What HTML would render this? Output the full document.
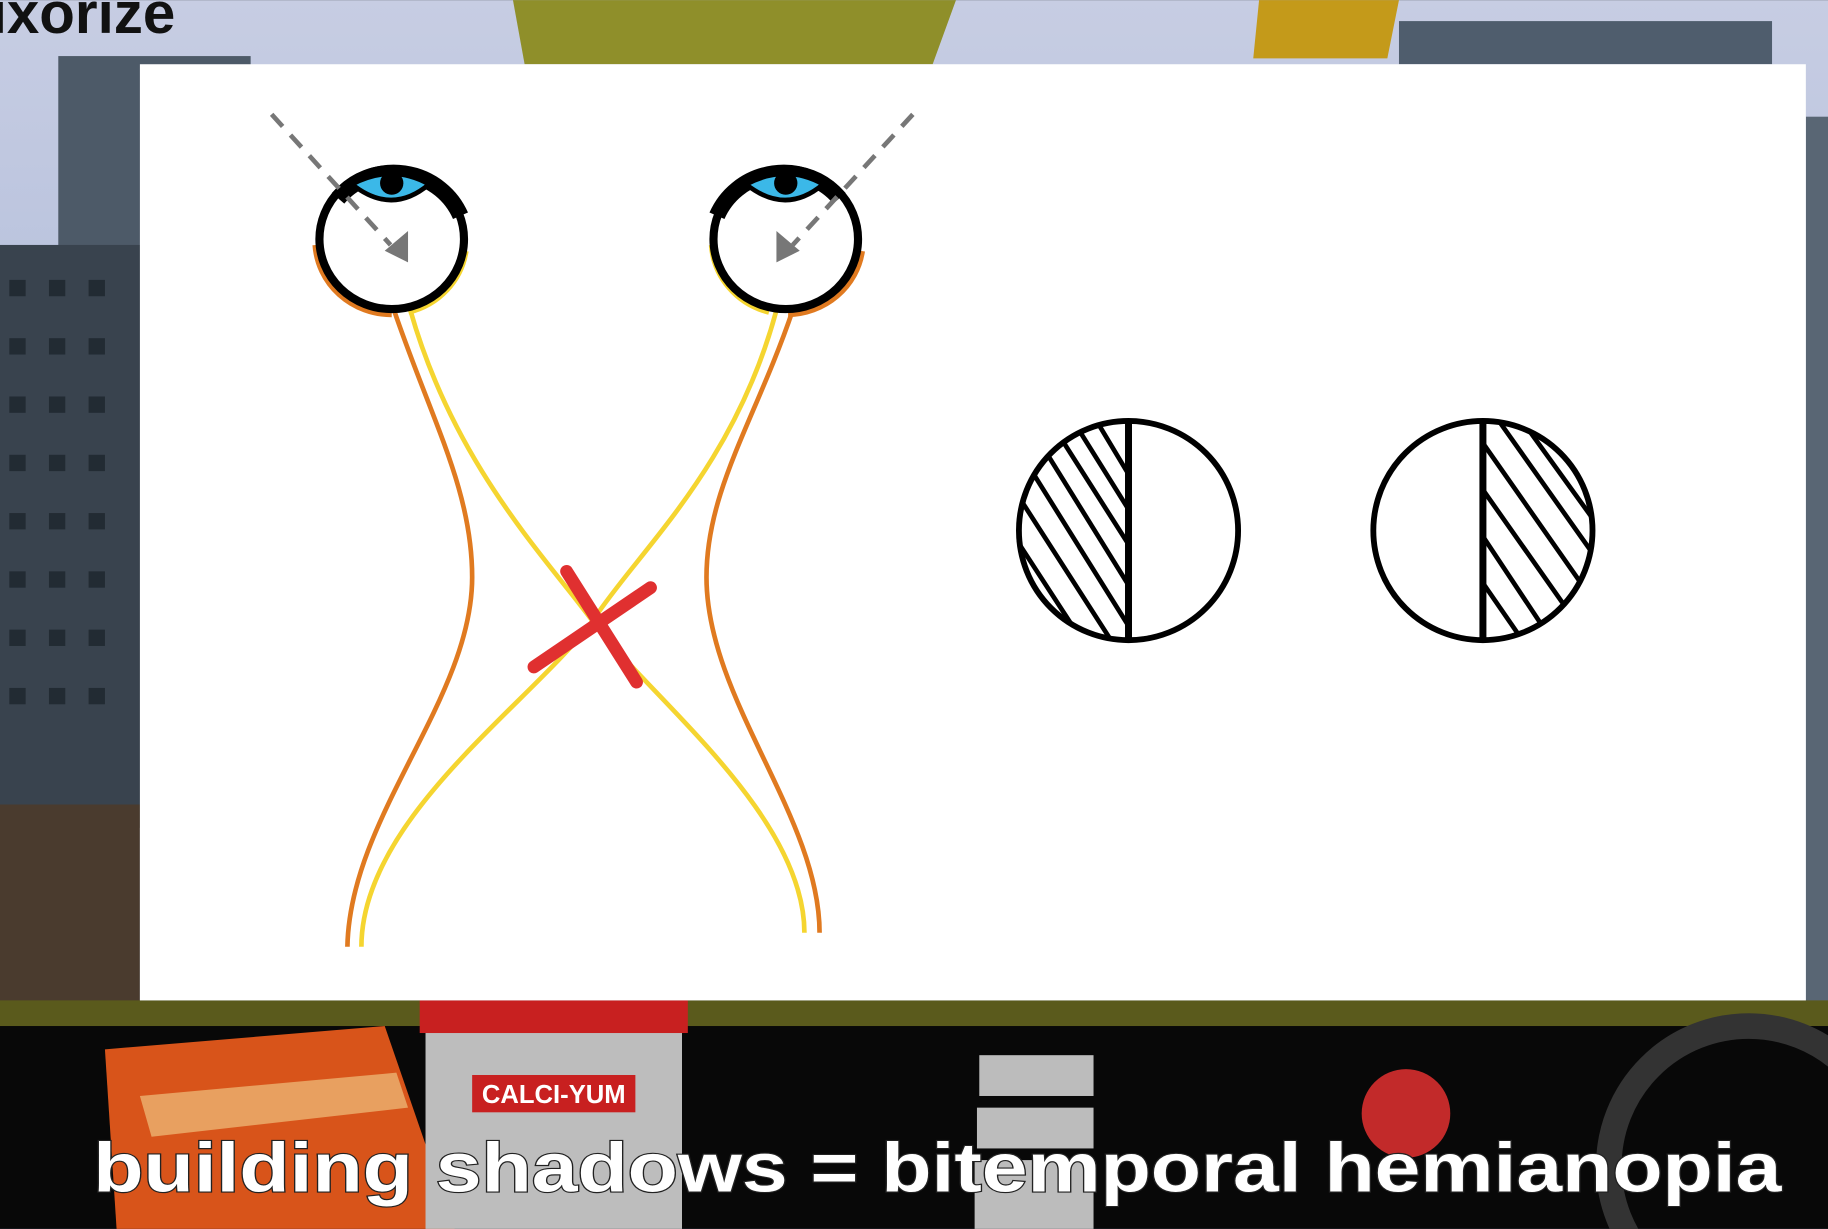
<!DOCTYPE html>
<html><head><meta charset="utf-8"><style>
html,body{margin:0;padding:0;width:1828px;height:1229px;overflow:hidden;background:#111}
svg{display:block;position:absolute;left:0;top:0}
</style></head><body>
<svg width="1828" height="1229" viewBox="0 0 1568 1054" xmlns="http://www.w3.org/2000/svg">
<defs>
<linearGradient id="sky" x1="0" y1="0" x2="0" y2="1"><stop offset="0" stop-color="#c7cde3"/><stop offset="1" stop-color="#8fa4cc"/></linearGradient>
<clipPath id="lc"><circle cx="968" cy="455" r="93"/></clipPath>
<clipPath id="rc"><circle cx="1272" cy="455" r="93"/></clipPath>
<clipPath id="lh"><rect x="860" y="355" width="108" height="200"/></clipPath>
<clipPath id="rh"><rect x="1272" y="355" width="108" height="200"/></clipPath>
</defs>
<g>
<rect width="1568" height="1054" fill="url(#sky)"/>
<rect x="50" y="48" width="165" height="300" fill="#4d5a68"/>
<rect x="0" y="210" width="130" height="500" fill="#39434e"/>
<g fill="#222b33">
<rect x="8" y="240" width="14" height="14"/><rect x="42" y="240" width="14" height="14"/><rect x="76" y="240" width="14" height="14"/>
<rect x="8" y="290" width="14" height="14"/><rect x="42" y="290" width="14" height="14"/><rect x="76" y="290" width="14" height="14"/>
<rect x="8" y="340" width="14" height="14"/><rect x="42" y="340" width="14" height="14"/><rect x="76" y="340" width="14" height="14"/>
<rect x="8" y="390" width="14" height="14"/><rect x="42" y="390" width="14" height="14"/><rect x="76" y="390" width="14" height="14"/>
<rect x="8" y="440" width="14" height="14"/><rect x="42" y="440" width="14" height="14"/><rect x="76" y="440" width="14" height="14"/>
<rect x="8" y="490" width="14" height="14"/><rect x="42" y="490" width="14" height="14"/><rect x="76" y="490" width="14" height="14"/>
<rect x="8" y="540" width="14" height="14"/><rect x="42" y="540" width="14" height="14"/><rect x="76" y="540" width="14" height="14"/>
<rect x="8" y="590" width="14" height="14"/><rect x="42" y="590" width="14" height="14"/><rect x="76" y="590" width="14" height="14"/>
</g>
<rect x="0" y="690" width="120" height="170" fill="#4a3b2e"/>
<polygon points="440,0 820,0 800,55 450,55" fill="#8f8f2a"/>
<polygon points="1080,0 1200,0 1190,50 1075,50" fill="#c49a1a"/>
<rect x="1200" y="18" width="320" height="37" fill="#4f5d6d"/>
<rect x="1549" y="100" width="19" height="760" fill="#596674"/>
<rect x="0" y="858" width="1568" height="30" fill="#5a5a1c"/>
<rect x="0" y="880" width="1568" height="174" fill="#080808"/>
<polygon points="90,900 330,880 390,1054 100,1054" fill="#d8541a"/>
<polygon points="120,940 340,920 350,950 130,975" fill="#e8a060"/>
<rect x="365" y="860" width="220" height="194" fill="#bdbdbd"/>
<rect x="360" y="858" width="230" height="28" fill="#c82020"/>
<rect x="405" y="922" width="140" height="32" fill="#c82020"/>
<text x="475" y="946" font-family="Liberation Sans, sans-serif" font-weight="bold" font-size="22" fill="#fff" text-anchor="middle">CALCI-YUM</text>
<rect x="840" y="905" width="98" height="35" fill="#bcbcbc"/>
<rect x="838" y="950" width="100" height="35" fill="#bcbcbc"/>
<rect x="836" y="995" width="102" height="59" fill="#bcbcbc"/>
<circle cx="1206" cy="955" r="38" fill="#c22a2a"/>
<circle cx="1500" cy="1000" r="120" fill="none" stroke="#333" stroke-width="22"/>
<text x="-8" y="28" font-family="Liberation Sans, sans-serif" font-weight="bold" font-size="50" fill="#111">ixorize</text>
</g>
<g>
<rect x="120" y="55" width="1429" height="803" fill="#fff"/>
<g fill="none" stroke-width="4">
<path d="M338,266 C370,360 405,420 405,495 C405,600 300,700 298,812" stroke="#e07a20"/>
<path d="M352,266 C390,400 470,480 510,535 C560,600 690,700 690,800" stroke="#f5d530"/>
</g>
<g fill="none" stroke-width="4">
<path d="M680,266 C648,360 606,420 606,495 C606,600 703,700 703,800" stroke="#e07a20"/>
<path d="M666,266 C630,400 550,470 510,530 C460,600 310,700 310,812" stroke="#f5d530"/>
</g>
<g>
<path d="M272,210 A64,62 0 0 0 336,268" fill="none" stroke="#e07a20" stroke-width="8"/>
<path d="M398,215 A64,62 0 0 1 350,266" fill="none" stroke="#f5d530" stroke-width="8"/>
<ellipse cx="336" cy="205" rx="62" ry="60" fill="#fff" stroke="#000" stroke-width="7"/>
<path d="M290,170 A62,60 0 0 1 395,185" fill="none" stroke="#000" stroke-width="14"/>
<path d="M302,158 Q336,140 368,158 Q336,185 302,158Z" fill="#3bb8e8" stroke="#000" stroke-width="4"/>
<circle cx="336" cy="157" r="10" fill="#000"/>
<line x1="233" y1="98" x2="335" y2="210" stroke="#777" stroke-width="4" stroke-dasharray="14,10"/>
<polygon points="330,215 350,198 350,225" fill="#777"/>
</g>
<g>
<path d="M612,210 A64,62 0 0 0 660,266" fill="none" stroke="#f5d530" stroke-width="8"/>
<path d="M738,215 A64,62 0 0 1 676,268" fill="none" stroke="#e07a20" stroke-width="8"/>
<ellipse cx="674" cy="205" rx="62" ry="60" fill="#fff" stroke="#000" stroke-width="7"/>
<path d="M615,185 A62,60 0 0 1 720,170" fill="none" stroke="#000" stroke-width="14"/>
<path d="M640,158 Q674,140 706,158 Q674,185 640,158Z" fill="#3bb8e8" stroke="#000" stroke-width="4"/>
<circle cx="674" cy="157" r="10" fill="#000"/>
<line x1="783" y1="98" x2="680" y2="210" stroke="#777" stroke-width="4" stroke-dasharray="14,10"/>
<polygon points="686,215 666,198 666,225" fill="#777"/>
</g>
<g stroke="#e03030" stroke-width="11" stroke-linecap="round">
<line x1="486" y1="490" x2="546" y2="585"/>
<line x1="458" y1="572" x2="558" y2="504"/>
</g>
<g>
<g clip-path="url(#lc)"><g clip-path="url(#lh)" stroke="#000" stroke-width="4">
<line x1="870" y1="420" x2="960" y2="560"/><line x1="870" y1="380" x2="970" y2="540"/>
<line x1="880" y1="360" x2="970" y2="505"/><line x1="900" y1="360" x2="970" y2="470"/>
<line x1="920" y1="360" x2="970" y2="440"/><line x1="940" y1="360" x2="970" y2="410"/>
<line x1="870" y1="460" x2="935" y2="560"/><line x1="870" y1="500" x2="910" y2="560"/>
</g></g>
<line x1="968" y1="360" x2="968" y2="550" stroke="#000" stroke-width="6"/>
<circle cx="968" cy="455" r="94" fill="none" stroke="#000" stroke-width="5"/>
</g>
<g>
<g clip-path="url(#rc)"><g clip-path="url(#rh)" stroke="#000" stroke-width="4">
<line x1="1272" y1="380" x2="1370" y2="520"/><line x1="1285" y1="360" x2="1370" y2="480"/>
<line x1="1305" y1="360" x2="1370" y2="450"/><line x1="1272" y1="420" x2="1360" y2="545"/>
<line x1="1272" y1="460" x2="1335" y2="555"/><line x1="1272" y1="500" x2="1310" y2="555"/>
<line x1="1325" y1="360" x2="1370" y2="420"/>
</g></g>
<line x1="1272" y1="360" x2="1272" y2="550" stroke="#000" stroke-width="6"/>
<circle cx="1272" cy="455" r="94" fill="none" stroke="#000" stroke-width="5"/>
</g>
</g>
<text x="804" y="1022" text-anchor="middle" font-family="Liberation Sans, sans-serif" font-weight="bold" font-size="60" fill="#fff" stroke="#222" stroke-width="2" paint-order="stroke" textLength="1448" lengthAdjust="spacingAndGlyphs">building shadows = bitemporal hemianopia</text>
</svg>
</body></html>
